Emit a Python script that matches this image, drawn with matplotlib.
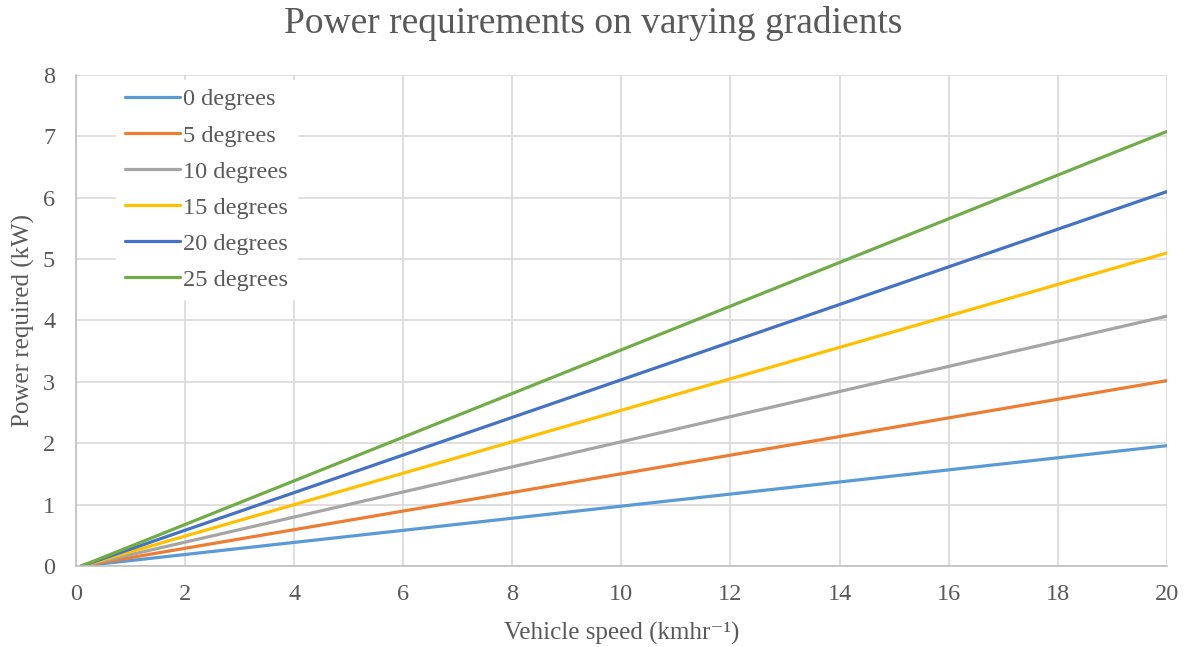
import matplotlib.pyplot as plt

plt.rcParams['font.family'] = ['Liberation Serif', 'DejaVu Serif']

# speed range covered by each gradient series (km/h)
speed = [0.1, 20]

# power required at each end of the speed range (kW)
power_0 = [0, 1.96]
power_5 = [0, 3.02]
power_10 = [0, 4.07]
power_15 = [0, 5.10]
power_20 = [0, 6.10]
power_25 = [0, 7.08]

labels = ["0 degrees", "5 degrees", "10 degrees", "15 degrees", "20 degrees", "25 degrees"]
colors = ["#5B9BD5", "#ED7D31", "#A5A5A5", "#FFC000", "#4472C4", "#70AD47"]
series = [power_0, power_5, power_10, power_15, power_20, power_25]

txt = "#595959"

fig = plt.figure(figsize=(11.87, 6.47), dpi=100)
ax = fig.add_axes([0.064, 0.1252, 0.919, 0.7589])

for p, lab, c in zip(series, labels, colors):
    ax.plot(speed, p, color=c, lw=2.3, label=lab, solid_capstyle="round")

ax.set_xlim(0, 20)
ax.set_ylim(0, 8)
ax.set_xticks(range(0, 21, 2))
ax.set_yticks(range(0, 9))
ax.grid(True, color="#d9d9d9", lw=1.2)
ax.set_axisbelow(True)
for s in ["top", "right"]:
    ax.spines[s].set_visible(False)
for s in ["left", "bottom"]:
    ax.spines[s].set_color("#bfbfbf")
    ax.spines[s].set_linewidth(1.2)
ax.tick_params(length=0, labelsize=17.5, labelcolor=txt)
ax.tick_params(axis="x", pad=13)
ax.tick_params(axis="y", pad=15)

ax.set_xlabel("Vehicle speed (kmhr⁻¹)", fontsize=18, color=txt, labelpad=12)
ax.set_ylabel("Power required (kW)", fontsize=18, color=txt, labelpad=6)
fig.suptitle("Power requirements on varying gradients", fontsize=27, color=txt, y=0.99)

leg = ax.legend(loc="upper left", bbox_to_anchor=(0.037, 0.99), frameon=True,
                fontsize=17.5, labelcolor=txt, handlelength=2.25, handletextpad=0.15,
                labelspacing=0.58, borderpad=0.35, borderaxespad=0, fancybox=False)
leg.get_frame().set_facecolor("white")
leg.get_frame().set_edgecolor("white")
leg.get_frame().set_alpha(1)

fig.savefig("out.png", dpi=100)
